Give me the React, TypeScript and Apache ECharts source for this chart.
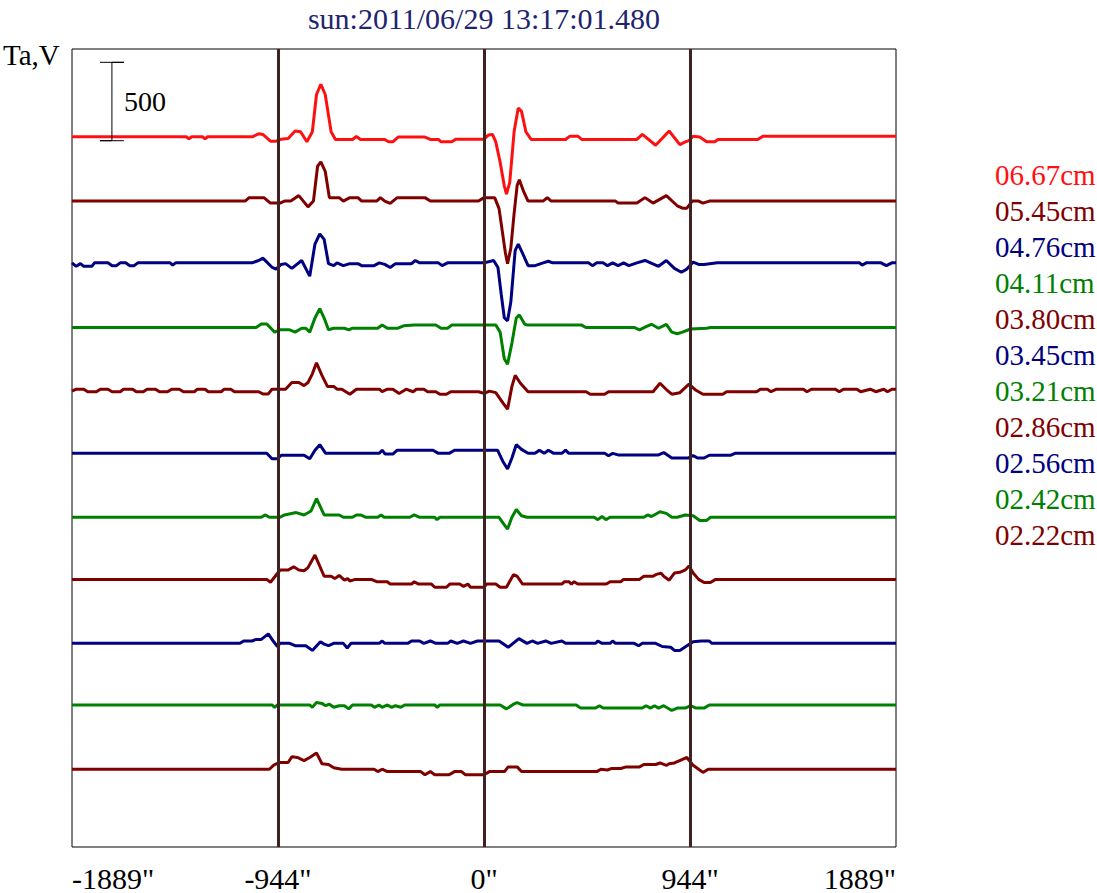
import React, { useEffect, useRef } from "react";
import * as echarts from "echarts";

// ---- labels ----
const titleText = "sun:2011/06/29 13:17:01.480";
const yAxisName = "Ta,V";
const xTickLabels = ['-1889"', '-944"', '0"', '944"', '1889"'];
const xMin = -1889;
const xMax = 1889;
const xInterval = 944.5;
const yMin = 0;
const yMax = 5090;
const limbLines = [-944, 0, 944];

// ---- channels (legend order, top trace first) ----
const channelNames = [
  "06.67cm", "05.45cm", "04.76cm", "04.11cm", "03.80cm", "03.45cm",
  "03.21cm", "02.86cm", "02.56cm", "02.42cm", "02.22cm",
];
const channelColors = [
  "#ff1010", "#800000", "#000080", "#008000", "#800000", "#000080",
  "#008000", "#800000", "#000080", "#008000", "#800000",
];
// vertical offset of each trace (Ta units)
const channelOffsets = [4530, 4120, 3726, 3314, 2908, 2511, 2103, 1707, 1299, 906, 496];

// scale bar: 500 Ta
const scaleBarX = [-1761, -1706, -1651];
const scaleBarTa = [4505, 5005];
const scaleBarLabel = "500";

// ---- trace values: [arcsec, Ta deviation] ----
const trace0667 = [
  [-1889, 0], [-1365, 0], [-1353, -13], [-1340, 0], [-1291, 0], [-1279, -13], [-1267, 0],
  [-1063, 0], [-1033, 19], [-1014, 15], [-979, -28], [-954, -28], [-930, -15], [-898, -11],
  [-866, 37], [-841, 32], [-812, -32], [-787, 32], [-768, 270], [-748, 335], [-728, 270],
  [-701, 32], [-681, -17], [-603, -17], [-585, 2], [-566, -17], [-455, -17], [-438, -32],
  [-418, -32], [-394, -2], [-271, -2], [-246, -17], [-209, -17], [-197, -32], [-148, -32],
  [-128, -15], [0, -15], [20, 11], [39, 15], [54, -32], [74, -162], [93, -313], [103, -365],
  [118, -292], [138, 32], [157, 184], [172, 162], [192, 32], [216, -17], [374, -17], [394, 4],
  [430, 4], [448, -17], [701, -17], [726, 15], [787, -54], [849, 37], [898, -50], [923, -32],
  [940, -24], [959, 4], [989, -2], [1021, -32], [1058, -32], [1073, -17], [1255, -17],
  [1279, 4], [1889, 4],
];
const trace0545 = [
  [-1889, 0], [-1095, 0], [-1077, 22], [-1009, 22], [-979, -13], [-935, -13], [-915, 0],
  [-886, 0], [-849, 35], [-807, -37], [-782, 0], [-763, 222], [-748, 250], [-728, 190],
  [-709, 22], [-664, 22], [-645, 0], [-615, 22], [-578, 22], [-561, 0], [-492, 0], [-475, 22],
  [-455, 0], [-430, -15], [-398, 22], [-271, 22], [-246, 0], [-25, 0], [0, 22], [49, 22],
  [69, -48], [98, -330], [108, -400], [123, -300], [138, -80], [152, 100], [162, 136],
  [182, 60], [202, 0], [271, 0], [290, 22], [308, 0], [603, 0], [615, -13], [701, -13],
  [738, 22], [775, -13], [836, 35], [886, -30], [910, -45], [930, -45], [955, 0], [984, 0],
  [1004, -13], [1033, 0], [1889, 0],
];
const trace0476 = [
  [-1889, 0], [-1870, -22], [-1850, -5], [-1835, -22], [-1798, -22], [-1786, 0], [-1724, 0],
  [-1705, -18], [-1685, -18], [-1668, 0], [-1643, 0], [-1624, -18], [-1604, -18], [-1587, 0],
  [-1439, 0], [-1427, -15], [-1414, 0], [-1063, 0], [-1033, 15], [-1014, 30], [-972, -28],
  [-954, -40], [-930, -10], [-910, -5], [-881, -35], [-836, 15], [-799, -85], [-775, 120],
  [-753, 185], [-733, 150], [-713, -5], [-689, -18], [-674, 0], [-645, -18], [-615, -5],
  [-578, -5], [-561, -18], [-504, -18], [-480, 0], [-455, -10], [-430, -30], [-406, -5],
  [-332, -5], [-315, 15], [-295, 0], [-209, 0], [-192, -18], [-167, 0], [0, 0], [44, 15],
  [64, -30], [79, -200], [93, -350], [108, -370], [123, -250], [143, 80], [157, 120],
  [177, 60], [202, -18], [234, -18], [271, 0], [295, 10], [315, 0], [480, 0], [497, -18],
  [517, 0], [546, 0], [566, -18], [590, 0], [615, -18], [640, 0], [664, -18], [701, 0],
  [738, 15], [800, -22], [836, 15], [873, -35], [905, -60], [930, -40], [959, 5], [984, -10],
  [1009, -10], [1070, 0], [1722, 0], [1734, -15], [1752, 0], [1820, 0], [1845, -18],
  [1870, 0], [1889, 0],
];
const trace0411 = [
  [-1889, 0], [-1045, 0], [-1021, 22], [-996, 22], [-960, -30], [-935, -15], [-891, -15],
  [-866, -30], [-836, -5], [-817, -5], [-799, -30], [-775, 60], [-753, 120], [-733, 60],
  [-713, -15], [-689, -5], [-640, -5], [-620, -15], [-603, -5], [-487, -5], [-467, 15],
  [-443, -5], [-394, -5], [-369, 10], [-320, 15], [-221, 15], [-197, -5], [-167, -5],
  [-148, 15], [0, 15], [54, 15], [74, -30], [93, -200], [108, -235], [128, -100], [148, 60],
  [162, 80], [187, 20], [202, 15], [448, 15], [467, 0], [688, 0], [713, -15], [743, 5],
  [768, 20], [800, -5], [836, 20], [861, -30], [886, -40], [910, -30], [947, -10],
  [1021, -5], [1038, 0], [1889, 0],
];
const trace0380 = [
  [-1889, 0], [-1870, 12], [-1835, 12], [-1817, -4], [-1777, -4], [-1759, 12], [-1724, 12],
  [-1705, -4], [-1668, -4], [-1653, 12], [-1611, 12], [-1594, -4], [-1562, -4], [-1545, 12],
  [-1506, 12], [-1488, -4], [-1451, -4], [-1432, 12], [-1397, 12], [-1378, -4], [-1328, -4],
  [-1314, 12], [-1279, 12], [-1264, -4], [-1205, -4], [-1191, 12], [-1161, 12], [-1144, -4],
  [-1033, -4], [-1014, -18], [-989, -18], [-972, 12], [-910, 12], [-881, 55], [-849, 55],
  [-825, 35], [-807, 55], [-787, 110], [-768, 180], [-743, 100], [-718, 30], [-689, 30],
  [-674, 12], [-652, 12], [-615, -20], [-585, 12], [-480, 12], [-467, -4], [-443, 12],
  [-418, 12], [-389, -15], [-357, 12], [-325, -4], [-310, 12], [-276, 12], [-258, -4],
  [-221, -4], [-202, -20], [-172, -20], [-153, -4], [-25, -4], [0, -15], [25, 0], [54, -10],
  [89, -80], [108, -115], [128, 30], [143, 100], [167, 50], [202, -4], [468, -4], [487, -20],
  [553, -20], [571, -4], [775, -4], [807, 50], [836, 10], [861, -20], [898, -10], [940, 45],
  [972, 5], [1004, -20], [1095, -20], [1112, -4], [1250, -4], [1267, 12], [1299, 12],
  [1316, -4], [1341, 12], [1464, 12], [1481, -4], [1501, 12], [1611, 12], [1629, -4],
  [1648, 12], [1710, 12], [1727, -4], [1771, 12], [1796, -4], [1833, 12], [1850, -4],
  [1870, 12], [1889, 12],
];
const trace0345 = [
  [-1889, 0], [-996, 0], [-972, -35], [-947, -35], [-930, -12], [-825, -12], [-799, -35],
  [-775, 20], [-753, 55], [-726, 0], [-480, 0], [-467, 20], [-453, -5], [-418, -5],
  [-398, 20], [-234, 20], [-209, 0], [-160, 0], [-135, 20], [0, 20], [62, 20], [86, -50],
  [108, -100], [128, -30], [148, 55], [172, 25], [202, 0], [234, 0], [254, 20], [276, 0],
  [295, 20], [320, 0], [357, 0], [374, 20], [389, 0], [553, 0], [571, -15], [590, 0],
  [615, -10], [800, -10], [824, 5], [861, -30], [935, -30], [959, -15], [979, -30],
  [1009, -30], [1033, -12], [1132, -12], [1151, 0], [1889, 0],
];
const trace0321 = [
  [-1889, 0], [-1021, 0], [-1004, 15], [-984, 0], [-935, 0], [-915, 15], [-861, 30],
  [-825, 15], [-793, 40], [-768, 120], [-733, 15], [-664, 15], [-645, 0], [-603, 0],
  [-585, 15], [-566, 15], [-541, 0], [-487, 0], [-472, 15], [-458, 0], [-340, 0], [-320, 15],
  [-295, 0], [-226, 0], [-216, -15], [-202, 0], [0, 0], [69, 0], [89, -40], [108, -75],
  [128, 0], [148, 50], [172, 10], [197, 0], [505, 0], [522, -15], [541, 5], [559, -15],
  [578, 0], [733, 0], [750, 15], [768, 5], [807, 35], [836, 25], [861, 0], [886, 0],
  [923, 15], [959, 10], [989, -20], [1021, -20], [1038, 0], [1889, 0],
];
const trace0286 = [
  [-1889, 0], [-996, 0], [-979, -18], [-960, 15], [-935, 60], [-898, 60], [-873, 80],
  [-849, 60], [-825, 55], [-807, 75], [-775, 155], [-733, 20], [-701, 20], [-684, 5],
  [-664, 25], [-640, -5], [-625, 5], [-615, -10], [-590, 0], [-517, 0], [-492, -15],
  [-443, -15], [-430, -30], [-332, -30], [-320, -15], [-300, -30], [-241, -30], [-226, -50],
  [-172, -50], [-157, -30], [-111, -30], [-94, -45], [-74, -30], [-62, -50], [0, -50],
  [12, -30], [54, -30], [74, -50], [103, -50], [135, 30], [152, 20], [177, -30], [357, -30],
  [369, -15], [389, -15], [401, -30], [413, -15], [430, -30], [561, -30], [578, -15],
  [627, -15], [640, 0], [713, 0], [733, 20], [775, 20], [787, 30], [812, 40], [824, 20],
  [849, -5], [873, 40], [898, 45], [923, 60], [940, 85], [959, 40], [984, 0], [1009, -20],
  [1038, -20], [1062, 0], [1889, 0],
];
const trace0256 = [
  [-1889, 0], [-1119, 0], [-1102, 15], [-1063, 15], [-1045, 25], [-1021, 25], [-989, 60],
  [-964, 10], [-947, -20], [-935, 0], [-891, 0], [-866, -15], [-817, -15], [-787, -45],
  [-750, 10], [-733, -5], [-713, -15], [-689, 0], [-645, 0], [-627, -30], [-610, 0],
  [-480, 0], [-467, 15], [-455, 0], [-350, 0], [-332, 15], [-295, 15], [-276, 0],
  [-246, 15], [-221, 0], [-167, 0], [-152, 15], [-123, 0], [-94, 15], [-62, 0], [-30, 15],
  [69, 15], [111, -25], [160, 30], [197, 0], [221, 15], [246, 0], [283, 15], [308, 0],
  [357, 15], [374, 0], [512, 0], [522, 15], [541, 0], [578, 0], [590, 15], [603, 0],
  [689, 0], [709, -15], [726, 0], [787, 0], [817, -20], [856, -25], [873, -45], [898, -45],
  [915, -30], [959, 10], [996, 15], [1033, 15], [1045, 0], [1889, 0],
];
const trace0242 = [
  [-1889, 0], [-972, 0], [-960, -15], [-947, 0], [-799, 0], [-787, -15], [-768, 15],
  [-743, 10], [-726, -5], [-709, 5], [-689, -15], [-664, -5], [-640, -5], [-620, -25],
  [-603, 0], [-517, 0], [-502, -15], [-482, 0], [-467, -15], [-443, 0], [-423, -15],
  [-406, -5], [-381, -15], [-364, 0], [-226, 0], [-214, -15], [-202, 0], [74, 0],
  [103, -25], [135, 5], [152, 15], [177, 0], [423, 0], [443, -20], [512, -20], [529, -5],
  [546, -20], [726, -20], [743, -5], [763, -20], [782, -5], [800, -20], [824, -5],
  [861, -35], [886, -20], [923, -20], [947, -5], [972, -20], [1009, -20], [1033, 0],
  [1889, 0],
];
const trace0222 = [
  [-1889, 0], [-984, 0], [-964, 26], [-940, 43], [-898, 43], [-881, 80], [-856, 75],
  [-825, 55], [-799, 75], [-768, 104], [-743, 35], [-713, 30], [-689, 10], [-652, 0],
  [-504, 0], [-487, -15], [-467, 0], [-443, -15], [-290, -15], [-271, -35], [-246, -15],
  [-226, -35], [-160, -35], [-135, -15], [-103, -15], [-86, -35], [0, -35], [25, -15],
  [94, -15], [111, 15], [152, 15], [172, -15], [517, -15], [536, 0], [566, -5], [586, 5],
  [627, 5], [652, 15], [713, 15], [733, 30], [787, 30], [807, 40], [836, 25], [849, 35],
  [873, 40], [905, 60], [930, 75], [959, 25], [984, 0], [1004, -20], [1028, 0], [1889, 0],
];

const traces = [
  trace0667, trace0545, trace0476, trace0411, trace0380, trace0345,
  trace0321, trace0286, trace0256, trace0242, trace0222,
];

const SERIF = "'Liberation Serif', 'Times New Roman', serif";

export default function App() {
  const ref = useRef<HTMLDivElement>(null);

  useEffect(() => {
    if (!ref.current) return;
    const chart = echarts.init(ref.current, null, { renderer: "svg" });

    const traceSeries = traces.map((tr, i) => ({
      name: channelNames[i],
      type: "line",
      data: tr.map(([x, v]) => [x, v + channelOffsets[i]]),
      showSymbol: false,
      symbol: "none",
      lineStyle: { color: channelColors[i], width: 3 },
      itemStyle: { color: channelColors[i] },
      z: 2,
    }));

    const [sbL, sbM, sbR] = scaleBarX;
    const [sbLo, sbHi] = scaleBarTa;

    const scaleSeries = {
      name: "scale",
      type: "line",
      data: [
        [sbL, sbHi], [sbR, sbHi], [sbM, sbHi], [sbM, sbLo], [sbL, sbLo], [sbR, sbLo],
      ],
      showSymbol: false,
      symbol: "none",
      lineStyle: { color: "#000", width: 1 },
      z: 5,
      markLine: {
        silent: true,
        symbol: ["none", "none"],
        label: { show: false },
        lineStyle: { color: "#402222", width: 3, type: "solid" },
        data: limbLines.map((v) => ({ xAxis: v })),
        z: 6,
      },
    };

    chart.setOption({
      animation: false,
      backgroundColor: "#ffffff",
      grid: {
        left: 72,
        right: 201,
        top: 49,
        bottom: 46,
        show: true,
        borderColor: "#000",
        borderWidth: 1,
        backgroundColor: "transparent",
      },
      xAxis: {
        type: "value",
        min: xMin,
        max: xMax,
        interval: xInterval,
        axisLine: { show: false },
        axisTick: { show: false },
        splitLine: { show: false },
        axisLabel: {
          show: true,
          margin: 16,
          color: "#000",
          fontFamily: SERIF,
          fontSize: 30,
          alignMinLabel: "left",
          alignMaxLabel: "right",
          formatter: (v: number) => xTickLabels[Math.round((v - xMin) / xInterval)] ?? "",
        },
      },
      yAxis: {
        type: "value",
        min: yMin,
        max: yMax,
        show: false,
        splitLine: { show: false },
      },
      legend: {
        orient: "vertical",
        left: 985,
        top: 155,
        icon: "none",
        itemWidth: 0,
        itemHeight: 28,
        itemGap: 7,
        selectedMode: false,
        textStyle: { fontFamily: SERIF, fontSize: 29 },
        data: channelNames.map((n, i) => ({
          name: n,
          textStyle: { color: channelColors[i] },
        })),
      },
      graphic: [
        {
          type: "text",
          x: 484,
          y: 18,
          style: {
            text: titleText,
            fill: "#1f2470",
            font: `30px ${SERIF}`,
            textAlign: "center",
            textVerticalAlign: "middle",
          },
        },
        {
          type: "text",
          x: 3,
          y: 55,
          style: {
            text: yAxisName,
            fill: "#000",
            font: `29px ${SERIF}`,
            textAlign: "left",
            textVerticalAlign: "middle",
          },
        },
        {
          type: "text",
          x: 124,
          y: 101,
          style: {
            text: scaleBarLabel,
            fill: "#000",
            font: `28px ${SERIF}`,
            textAlign: "left",
            textVerticalAlign: "middle",
          },
        },
      ],
      series: [...traceSeries, scaleSeries],
    });

    return () => chart.dispose();
  }, []);

  return (
    <div
      ref={ref}
      style={{ position: "fixed", left: 0, top: 0, width: 1097, height: 893, background: "#fff" }}
    />
  );
}
